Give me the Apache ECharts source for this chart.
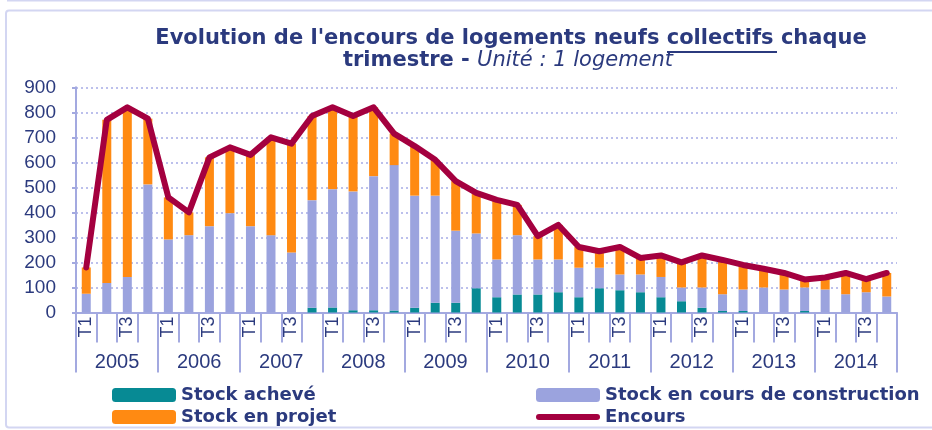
<!DOCTYPE html>
<html>
<head>
<meta charset="utf-8">
<script src="https://cdn.jsdelivr.net/npm/echarts@6/dist/echarts.min.js"></script>
<style>
  html, body { margin: 0; padding: 0; background: #fff; }
  #chart { width: 932px; height: 430px; }
</style>
</head>
<body>
<div id="chart"></div>
<script>
// trimestres 2005 -> 2014
var years = ['2005', '2006', '2007', '2008', '2009', '2010', '2011', '2012', '2013', '2014'];
var quarters = ['T1', 'T2', 'T3', 'T4'];
var yTicks = [0, 100, 200, 300, 400, 500, 600, 700, 800, 900];

var stockAcheve = [0, 0, 0, 0, 0, 0, 0, 0, 0, 0, 0, 19, 20, 9, 9, 8, 19, 39, 39, 97,
    61, 72, 72, 81, 61, 97, 89, 81, 61, 45, 19, 6, 6, 0, 0, 6, 0, 0, 0, 0];
var stockConstruction = [75, 118, 142, 512, 292, 309, 345, 397, 345, 309, 240, 430, 473, 475, 536, 581, 448, 428, 288, 219,
    151, 237, 140, 131, 118, 82, 63, 71, 81, 55, 81, 67, 86, 100, 92, 94, 92, 73, 81, 64];
var stockProjet = [105, 652, 678, 263, 168, 91, 275, 263, 285, 391, 435, 336, 327, 301, 275, 126, 198, 143, 198, 162,
    238, 121, 93, 138, 83, 66, 110, 66, 86, 100, 128, 137, 98, 75, 66, 32, 48, 85, 52, 94];
var encours = [180, 770, 820, 775, 460, 400, 620, 660, 630, 700, 675, 785, 820, 785, 820, 715, 665, 610, 525, 478,
    450, 430, 305, 350, 262, 245, 262, 218, 228, 200, 228, 210, 190, 175, 158, 132, 140, 158, 133, 158];

var categories = [];
years.forEach(function (y) {
    quarters.forEach(function (q) { categories.push(q); });
});

var navy = '#2B3A7E';
var lavLine = '#A3A9E0';
var red = '#A4003F';
var legendText = { fontFamily: 'DejaVu Sans', fontWeight: 'bold', fontSize: 18, color: navy };

var chart = echarts.init(document.getElementById('chart'));
chart.setOption({
    animation: false,
    grid: { left: 76, right: 35, top: 87.3, bottom: 117.5 },
    graphic: [
        { type: 'line', shape: { x1: 7, y1: 0.5, x2: 932, y2: 0.5 }, style: { stroke: '#D3D6F2', lineWidth: 2 } },
        { type: 'rect', shape: { x: 6, y: 10.5, width: 940, height: 417, r: 3 }, style: { fill: null, stroke: '#D3D6F2', lineWidth: 2 } },
        {
            type: 'text', x: 511, y: 39,
            style: {
                text: "Evolution de l'encours de logements neufs collectifs chaque",
                font: 'bold 21px "DejaVu Sans"', fill: navy, align: 'center', verticalAlign: 'middle'
            }
        },
        { type: 'line', shape: { x1: 667, y1: 52, x2: 777, y2: 52 }, style: { stroke: navy, lineWidth: 2 } },
        {
            type: 'text', x: 508, y: 61,
            style: {
                text: '{b|trimestre - }{i|Unité : 1 logement}',
                align: 'center', verticalAlign: 'middle',
                rich: {
                    b: { font: 'bold 21px "DejaVu Sans"', fill: navy },
                    i: { font: 'italic 21px "DejaVu Sans"', fill: navy }
                }
            }
        }
    ],
    legend: [
        {
            left: 112, top: 386, padding: 0, orient: 'vertical', itemWidth: 64, itemHeight: 14, itemGap: 4,
            textStyle: legendText,
            data: ['Stock achevé', 'Stock en projet']
        },
        {
            left: 536, top: 386, padding: 0, orient: 'vertical', itemWidth: 64, itemHeight: 14, itemGap: 4,
            symbolKeepAspect: true,
            textStyle: legendText,
            data: [
                'Stock en cours de construction',
                {
                    name: 'Encours',
                    icon: 'path://M3,0 L61,0 A3,3 0 0 1 61,6 L3,6 A3,3 0 0 1 3,0 Z',
                    itemStyle: { color: red }
                }
            ]
        }
    ],
    xAxis: [
        {
            type: 'category', data: categories, position: 'bottom',
            axisLine: { lineStyle: { color: lavLine, width: 2 } },
            axisTick: { show: true, interval: 0, alignWithLabel: false, length: 30, lineStyle: { color: lavLine, width: 2 } },
            axisLabel: { interval: 1, rotate: 90, margin: 4, fontFamily: 'Liberation Sans', fontSize: 18, color: navy }
        },
        {
            type: 'category', data: years, position: 'bottom', offset: 30,
            axisLine: { show: false },
            axisTick: { show: true, interval: 0, length: 30, lineStyle: { color: lavLine, width: 2 } },
            axisLabel: { interval: 0, margin: 10, fontFamily: 'Liberation Sans', fontSize: 20, color: navy }
        }
    ],
    yAxis: {
        type: 'value', min: yTicks[0], max: yTicks[yTicks.length - 1], interval: 100,
        axisLine: { show: true, lineStyle: { color: lavLine, width: 2 } },
        axisTick: { show: true, length: 4, lineStyle: { color: lavLine, width: 2 } },
        axisLabel: { margin: 20, fontFamily: 'Liberation Sans', fontSize: 19, color: navy },
        splitLine: { lineStyle: { color: '#BCC0EC', type: [2, 3], width: 2 } }
    },
    series: [
        { name: 'Stock achevé', type: 'bar', stack: 'stock', barWidth: 9, itemStyle: { color: '#078A94' }, data: stockAcheve },
        { name: 'Stock en cours de construction', type: 'bar', stack: 'stock', barWidth: 9, itemStyle: { color: '#9BA3DE' }, data: stockConstruction },
        { name: 'Stock en projet', type: 'bar', stack: 'stock', barWidth: 9, itemStyle: { color: '#FF8A12' }, data: stockProjet },
        {
            name: 'Encours', type: 'line', symbol: 'none', data: encours,
            lineStyle: { color: red, width: 6, cap: 'round', join: 'round' },
            itemStyle: { color: red }
        }
    ]
});
</script>
</body>
</html>
